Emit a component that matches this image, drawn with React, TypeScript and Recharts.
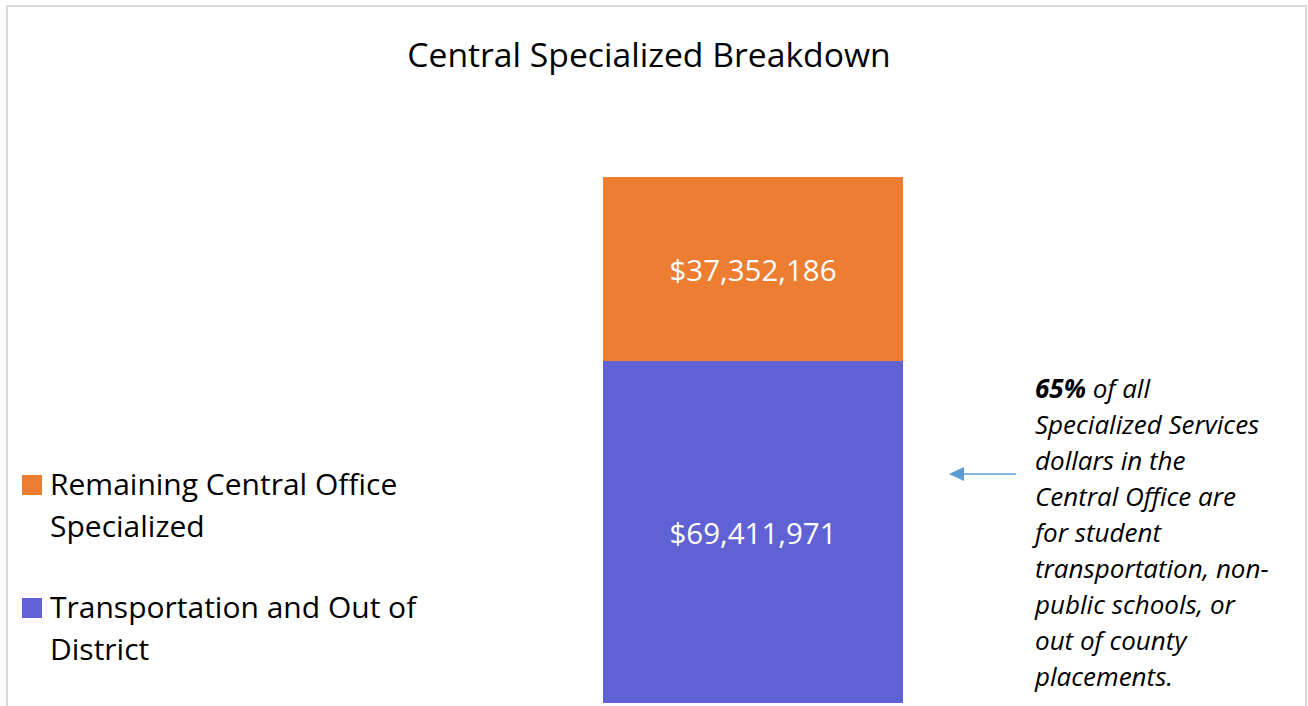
import React from 'react';
import { BarChart, Bar, XAxis, YAxis, Legend, LabelList } from 'recharts';

const categories = ['Central Office'];
const transportValues = [69411971];
const remainingValues = [37352186];
const seriesNames = ['Transportation and Out of District', 'Remaining Central Office Specialized'];
const seriesColors = ['#6161D6', '#ED7D31'];
const chartTitle = 'Central Specialized Breakdown';
const noteHighlight = '65%';
const noteLines = [
  ' of all',
  'Specialized Services',
  'dollars in the',
  'Central Office are',
  'for student',
  'transportation, non-',
  'public schools, or',
  'out of county',
  'placements.',
];

const data = categories.map((c, i) => ({
  name: c,
  transport: transportValues[i],
  remaining: remainingValues[i],
}));
const total = Math.max(...categories.map((_, i) => transportValues[i] + remainingValues[i]));

const FONT = '"Open Sans", "Noto Sans", sans-serif';
const fmt = (v: any) => '$' + Number(v).toLocaleString('en-US');

const renderLegend = () => {
  const items = [
    { name: seriesNames[1], color: seriesColors[1] },
    { name: seriesNames[0], color: seriesColors[0] },
  ];
  return (
    <div style={{ fontFamily: FONT, textAlign: 'left' }}>
      {items.map((it, i) => (
        <div key={it.name} style={{ display: 'flex', alignItems: 'flex-start', marginTop: i === 0 ? 0 : 39 }}>
          <div style={{ width: 20, height: 20, background: it.color, marginTop: 12, flex: '0 0 auto' }} />
          <div style={{ marginLeft: 8, width: 400, fontSize: 30, lineHeight: '42px', color: '#000' }}>{it.name}</div>
        </div>
      ))}
    </div>
  );
};

export default function App() {
  return (
    <div style={{ position: 'absolute', left: 0, top: 0, width: 1308, height: 706, overflow: 'hidden', background: '#fff', fontFamily: FONT }}>
      <div style={{ position: 'absolute', left: 6, top: 5, width: 1297, height: 720, border: '2px solid #d9d9d9' }} />
      <div style={{ position: 'absolute', left: 0, top: 0 }}>
        <BarChart
          width={1308}
          height={706}
          data={data}
          margin={{ top: 177, right: 405, bottom: 3, left: 603 }}
          barCategoryGap={0}
        >
          <XAxis dataKey="name" hide />
          <YAxis hide domain={[0, total]} />
          <Legend
            layout="vertical"
            align="center"
            verticalAlign="middle"
            content={renderLegend}
            wrapperStyle={{ position: 'absolute', left: 22, top: 463, width: 440, height: 210 }}
          />
          <Bar dataKey="transport" name={seriesNames[0]} stackId="a" fill={seriesColors[0]} isAnimationActive={false}>
            <LabelList dataKey="transport" position="center" formatter={fmt} fill="#fff" dy={2} style={{ fontSize: 29.5, fontFamily: FONT }} />
          </Bar>
          <Bar dataKey="remaining" name={seriesNames[1]} stackId="a" fill={seriesColors[1]} isAnimationActive={false}>
            <LabelList dataKey="remaining" position="center" formatter={fmt} fill="#fff" dy={2} style={{ fontSize: 29.5, fontFamily: FONT }} />
          </Bar>
        </BarChart>
      </div>
      <svg width={1308} height={706} style={{ position: 'absolute', left: 0, top: 0, pointerEvents: 'none' }}>
        <text x={649} y={67} textAnchor="middle" fontSize={33.7} fill="#000" fontFamily={FONT}>{chartTitle}</text>
        <line x1={963} y1={474} x2={1016} y2={474} stroke="#5B9BD5" strokeWidth={1.5} />
        <polygon points="949,474 964,467 964,481" fill="#5B9BD5" />
        {noteLines.map((ln, i) => (
          <text key={i} x={1035} y={398 + i * 36} fontSize={26} fontStyle="italic" fill="#000" fontFamily={FONT}>
            {i === 0 ? <tspan fontWeight="bold">{noteHighlight}</tspan> : null}
            {ln}
          </text>
        ))}
      </svg>
    </div>
  );
}
